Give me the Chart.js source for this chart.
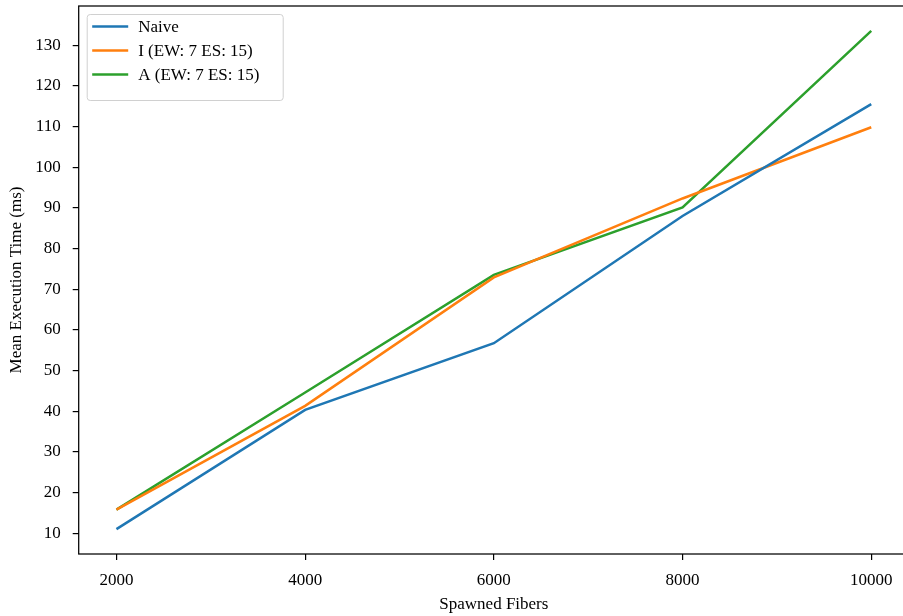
<!DOCTYPE html>
<html><head><meta charset="utf-8">
<script src="https://cdn.jsdelivr.net/npm/chart.js@4"></script>
<style>html,body{margin:0;padding:0;overflow:hidden;background:#fff}#wrap{width:910px;height:616px;position:relative}</style>
</head><body><div id="wrap"><canvas id="c"></canvas></div>
<script>
const fibers = [2000, 4000, 6000, 8000, 10000];
const naive = [11.0, 40.3, 56.7, 88.0, 115.5];
const iVals = [15.8, 41.3, 72.9, 92.3, 109.8];
const aVals = [15.8, 44.6, 73.5, 90.1, 133.5];
const seriesLabels = ['Naive', 'I (EW: 7 ES: 15)', 'A (EW: 7 ES: 15)'];
const xTicks = [2000, 4000, 6000, 8000, 10000];
const yTicks = [10, 20, 30, 40, 50, 60, 70, 80, 90, 100, 110, 120, 130];
const colors = ['#1f77b4', '#ff7f0e', '#2ca02c'];

const FONT = "'Liberation Serif', 'Times New Roman', serif";
const FS = 17;

const frame = {
  id: 'frame',
  afterDatasetsDraw(chart) {
    const {ctx, chartArea: a} = chart;
    ctx.save();
    ctx.strokeStyle = '#000';
    ctx.lineWidth = 1.25;
    ctx.strokeRect(a.left, a.top, a.right - a.left, a.bottom - a.top);
    ctx.restore();
  }
};

const legendBox = {
  id: 'legendBox',
  afterDraw(chart) {
    const {ctx, chartArea: a} = chart;
    const x0 = a.left + 8.5, y0 = a.top + 8.5, w = 196, h = 86;
    ctx.save();
    ctx.beginPath();
    ctx.roundRect(x0, y0, w, h, 3);
    ctx.fillStyle = 'rgba(255,255,255,0.8)';
    ctx.fill();
    ctx.strokeStyle = '#d0d0d0';
    ctx.lineWidth = 1;
    ctx.stroke();
    ctx.font = FS + 'px ' + FONT;
    ctx.textBaseline = 'middle';
    ctx.textAlign = 'left';
    chart.data.datasets.forEach((ds, i) => {
      const y = y0 + 12 + i * 24;
      ctx.beginPath();
      ctx.moveTo(x0 + 5, y);
      ctx.lineTo(x0 + 41, y);
      ctx.strokeStyle = ds.borderColor;
      ctx.lineWidth = 2.5;
      ctx.stroke();
      ctx.fillStyle = '#000';
      ctx.fillText(ds.label, x0 + 51, y + 1);
    });
    ctx.restore();
  }
};

const mk = (vals, i) => ({
  label: seriesLabels[i],
  data: fibers.map((f, k) => ({x: f, y: vals[k]})),
  borderColor: colors[i],
  backgroundColor: colors[i],
  borderWidth: 2.5,
  pointRadius: 0,
  tension: 0,
  fill: false
});

new Chart(document.getElementById('c'), {
  type: 'line',
  data: { datasets: [mk(naive, 0), mk(iVals, 1), mk(aVals, 2)] },
  options: {
    responsive: true,
    maintainAspectRatio: false,
    animation: false,
    layout: { padding: { top: 6, right: 1, left: 0, bottom: 0 } },
    plugins: { legend: { display: false }, tooltip: { enabled: false } },
    scales: {
      x: {
        type: 'linear',
        min: 1600, max: 10400,
        afterBuildTicks: s => { s.ticks = xTicks.map(v => ({value: v})); },
        afterFit: s => { s.height = 62; s.paddingLeft = 0; s.paddingRight = 0; },
        grid: { drawOnChartArea: false, drawTicks: true, tickLength: 6, color: '#000', lineWidth: 1.2 },
        border: { display: false },
        ticks: { color: '#000', font: { family: FONT, size: FS }, padding: 10, maxRotation: 0, autoSkip: false, callback: v => String(v) },
        title: { display: true, text: 'Spawned Fibers', color: '#000', font: { family: FONT, size: FS }, padding: { top: 0, bottom: 1 } }
      },
      y: {
        type: 'linear',
        min: 4.875, max: 139.625,
        afterBuildTicks: s => { s.ticks = yTicks.map(v => ({value: v})); },
        afterFit: s => { s.width = 78.7; s.paddingTop = 0; s.paddingBottom = 0; },
        grid: { drawOnChartArea: false, drawTicks: true, tickLength: 6, color: '#000', lineWidth: 1.2 },
        border: { display: false },
        ticks: { color: '#000', font: { family: FONT, size: FS }, padding: 12, autoSkip: false, callback: v => String(v) },
        title: { display: true, text: 'Mean Execution Time (ms)', color: '#000', font: { family: FONT, size: FS }, padding: { top: 6, bottom: 0 } }
      }
    }
  },
  plugins: [frame, legendBox]
});
</script>
</body></html>
